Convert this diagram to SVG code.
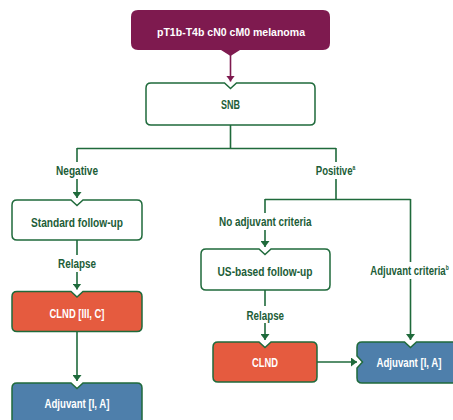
<svg xmlns="http://www.w3.org/2000/svg" width="453" height="420" viewBox="0 0 453 420">
  <defs>
    <style>
      .lbl { font-family: "Liberation Sans Narrow", "Liberation Sans", Arial, sans-serif; font-weight: bold; font-size: 12.5px; fill: #1c5d37; text-anchor: middle; }
      .sup { font-size: 6.5px; }
      .wt { fill: #ffffff; }
      .box { fill: #ffffff; stroke: #1f6a3b; stroke-width: 1.5; }
      .red { fill: #e55b3f; stroke: #1f6a3b; stroke-width: 1.5; }
      .blue { fill: #4e7fab; stroke: #1f6a3b; stroke-width: 1.5; }
      .ln { fill: none; stroke: #1f6a3b; stroke-width: 1.6; }
      .lnm { fill: none; stroke: #7e1a4f; stroke-width: 1.6; }
    </style>
    <marker id="arrG" markerUnits="userSpaceOnUse" markerWidth="6" markerHeight="9" viewBox="0 0 6 9" refX="6" refY="4.5" orient="auto">
      <path d="M0,0 L6,4.5 L0,9 Z" fill="#1f6a3b"/>
    </marker>
    <marker id="arrM" markerUnits="userSpaceOnUse" markerWidth="6" markerHeight="9" viewBox="0 0 6 9" refX="6" refY="4.5" orient="auto">
      <path d="M0,0 L6,4.5 L0,9 Z" fill="#7e1a4f"/>
    </marker>
  </defs>

  <rect width="453" height="420" fill="#ffffff"/>

  <!-- connectors -->
  <g id="connectors">
    <path class="lnm" d="M230.5,55 V81.5" marker-end="url(#arrM)"/>
    <path class="ln" d="M230.5,125 V148.5 M77,148.5 H336"/>
    <!-- negative branch -->
    <path class="ln" d="M77,148 V162"/>
    <path class="ln" d="M77,179 V198" marker-end="url(#arrG)"/>
    <!-- positive branch -->
    <path class="ln" d="M336,148 V162"/>
    <path class="ln" d="M336,179 V199.5 M265,199.5 H410.5"/>
    <path class="ln" d="M265,199 V213"/>
    <path class="ln" d="M265,230 V247" marker-end="url(#arrG)"/>
    <path class="ln" d="M410.5,199 V262"/>
    <path class="ln" d="M410.5,279 V340" marker-end="url(#arrG)"/>
    <!-- relapse links -->
    <path class="ln" d="M77,240 V255"/>
    <path class="ln" d="M77,272 V289.5" marker-end="url(#arrG)"/>
    <path class="ln" d="M265,290 V306"/>
    <path class="ln" d="M265,323 V340" marker-end="url(#arrG)"/>
    <path class="ln" d="M77,331.5 V381" marker-end="url(#arrG)"/>
    <path class="ln" d="M317,362 H357" marker-end="url(#arrG)"/>

    <text class="lbl" x="77" y="174.5" textLength="42" lengthAdjust="spacingAndGlyphs">Negative</text>
    <text class="lbl" transform="translate(335.5,174.5) scale(0.767,1)" x="0" y="0">Positive<tspan class="sup" dy="-5">a</tspan></text>
    <text class="lbl" x="265.3" y="225.5" textLength="92.5" lengthAdjust="spacingAndGlyphs">No adjuvant criteria</text>
    <text class="lbl" transform="translate(409.5,274.5) scale(0.765,1)" x="0" y="0">Adjuvant criteria<tspan class="sup" dy="-5">b</tspan></text>
    <text class="lbl" x="77" y="268" textLength="38" lengthAdjust="spacingAndGlyphs">Relapse</text>
    <text class="lbl" x="265.3" y="319.5" textLength="37.5" lengthAdjust="spacingAndGlyphs">Relapse</text>
  </g>

  <!-- start node -->
  <g id="n-melanoma">
    <path d="M138,10 H323 Q330,10 330,17 V43 Q330,50 323,50 H240 L230.5,56 L221,50 H138 Q131,50 131,43 V17 Q131,10 138,10 Z" fill="#7e1a4f"/>
    <text class="lbl wt" x="231" y="36" style="font-size:11.5px" textLength="148" lengthAdjust="spacingAndGlyphs">pT1b-T4b cN0 cM0 melanoma</text>
  </g>

  <g id="n-snb">
    <path class="box" d="M151,83 H224.5 L230.5,88.5 L236.5,83 H310 Q315,83 315,88 V120 Q315,125 310,125 H151 Q146,125 146,120 V88 Q146,83 151,83 Z"/>
    <text class="lbl" x="230.5" y="109" textLength="19" lengthAdjust="spacingAndGlyphs">SNB</text>
  </g>

  <g id="n-standard">
    <path class="box" d="M17,200 H71 L77,205.5 L83,200 H137 Q142,200 142,205 V235 Q142,240 137,240 H17 Q12,240 12,235 V205 Q12,200 17,200 Z"/>
    <text class="lbl" x="77" y="226.5" textLength="92" lengthAdjust="spacingAndGlyphs">Standard follow-up</text>
  </g>

  <g id="n-clnd-left">
    <path class="red" d="M17,291.5 H71 L77,297 L83,291.5 H137 Q142,291.5 142,296.5 V326.5 Q142,331.5 137,331.5 H17 Q12,331.5 12,326.5 V296.5 Q12,291.5 17,291.5 Z"/>
    <text class="lbl wt" x="77" y="317.5" textLength="55" lengthAdjust="spacingAndGlyphs">CLND [III, C]</text>
  </g>

  <g id="n-adjuvant-left">
    <path class="blue" d="M17,383 H71 L77,388.5 L83,383 H137 Q142,383 142,388 V428 H12 V388 Q12,383 17,383 Z"/>
    <text class="lbl wt" x="77" y="407.5" textLength="65" lengthAdjust="spacingAndGlyphs">Adjuvant [I, A]</text>
  </g>

  <g id="n-us">
    <path class="box" d="M206,249 H259 L265,254.5 L271,249 H325 Q330,249 330,254 V285 Q330,290 325,290 H206 Q201,290 201,285 V254 Q201,249 206,249 Z"/>
    <text class="lbl" x="265" y="276" textLength="95" lengthAdjust="spacingAndGlyphs">US-based follow-up</text>
  </g>

  <g id="n-clnd-right">
    <path class="red" d="M218,342 H259 L265,347.5 L271,342 H312 Q317,342 317,347 V377 Q317,382 312,382 H218 Q213,382 213,377 V347 Q213,342 218,342 Z"/>
    <text class="lbl wt" x="265" y="367" textLength="26" lengthAdjust="spacingAndGlyphs">CLND</text>
  </g>

  <g id="n-adjuvant-right">
    <path class="blue" d="M362,342 H404.5 L410.5,347.5 L416.5,342 H470 V383 H362 Q357,383 357,378 V368 L362.5,362 L357,356 V347 Q357,342 362,342 Z"/>
    <text class="lbl wt" transform="translate(409,367) scale(0.773,1)" x="0" y="0">Adjuvant [I, A]</text>
  </g>
</svg>
